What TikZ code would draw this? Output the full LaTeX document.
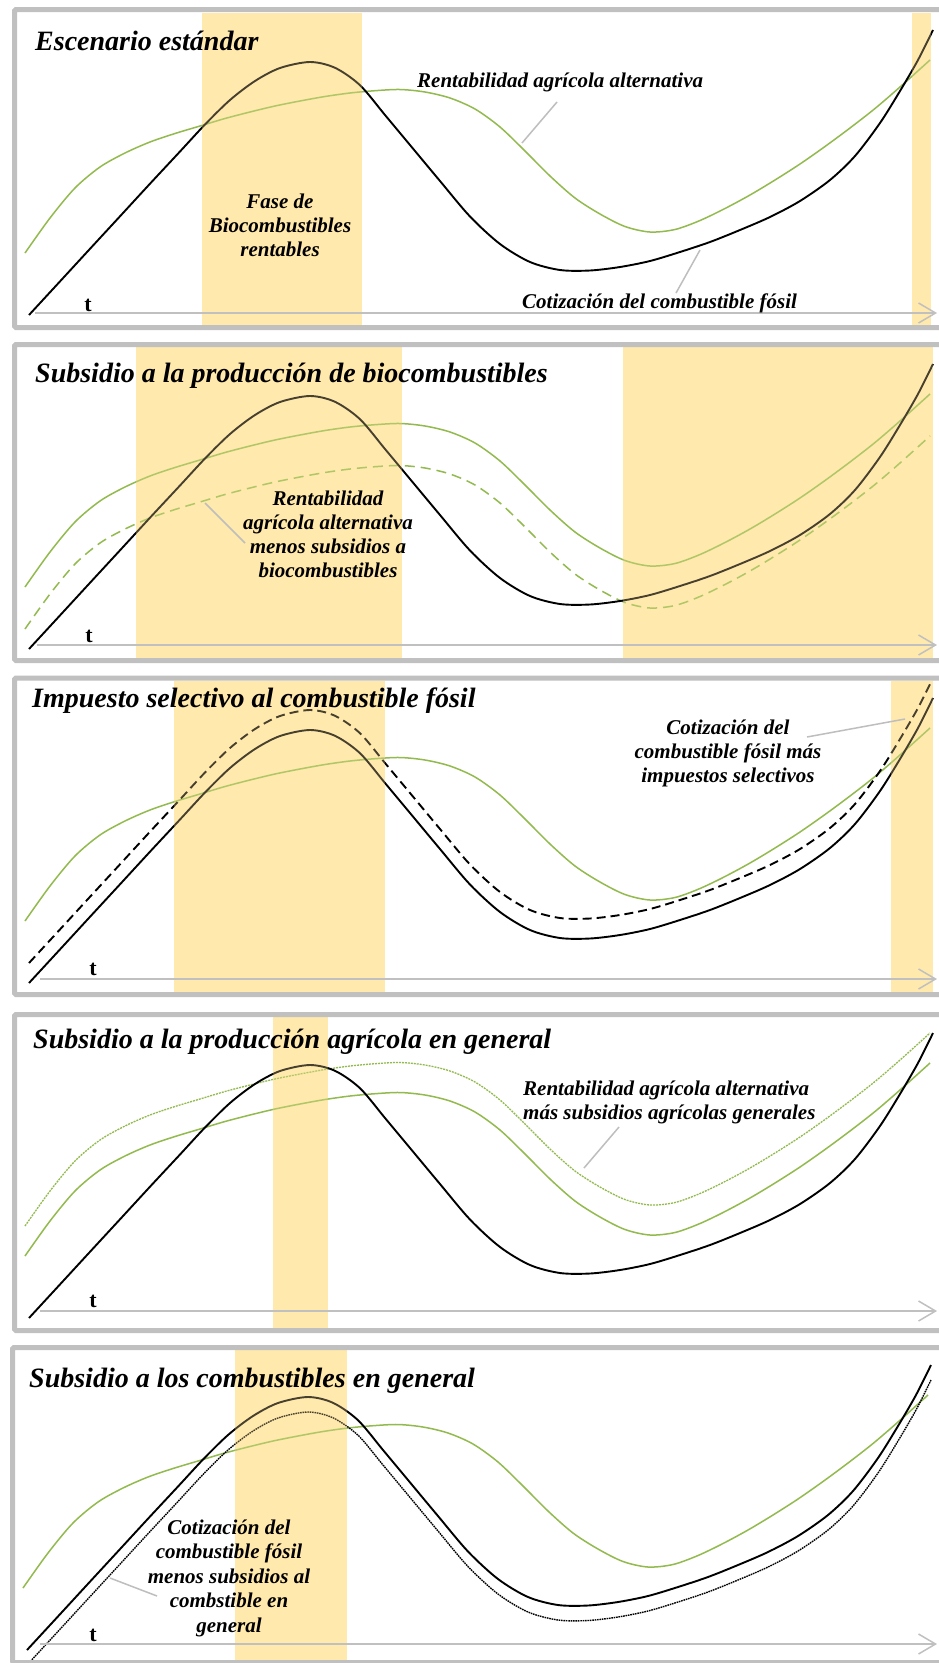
\documentclass[tikz,border=0pt]{standalone}
\usepackage{fontspec}
\setmainfont{Liberation Serif}
\usetikzlibrary{arrows.meta}
\definecolor{framegray}{RGB}{192,192,192}
\definecolor{leadgray}{RGB}{190,190,190}
\definecolor{bandyellow}{RGB}{255,233,172}
\definecolor{curvegreen}{RGB}{146,186,78}
\newcommand{\mylines}[2][c]{\begin{tabular}[t]{@{}#1@{}}#2\end{tabular}}
\newcommand{\blackcurve}[1]{\draw[#1] plot[smooth,tension=0.5] coordinates {(29,315) (60,281.4) (90,248.8) (120,216.3) (150,183.7) (180,151.5) (205,124.5) (230,100) (255,81) (280,68) (310,62) (335,67.8) (360,85.2) (385,115) (410,145) (440,181) (470,216.5) (500,244) (530,262) (560,270) (590,270.5) (620,267) (650,261) (680,252) (710,242) (740,230) (770,217) (800,201) (830,180) (855,156) (880,123) (900,91) (918,60) (933,30)};}
\newcommand{\greencurve}[1]{\draw[#1] plot[smooth,tension=0.5] coordinates {(25,253) (50,218) (75,188) (100,167) (125,153) (150,142) (175,133.5) (200,126) (225,118.5) (250,112) (275,106) (300,101) (325,96.5) (350,93) (375,90.7) (400,89.5) (425,92) (450,98) (475,109) (500,127) (525,151) (550,176) (575,198) (600,214) (625,226.5) (650,232) (675,229.5) (700,220.5) (725,208.5) (750,195) (775,180) (800,164) (825,146.5) (850,128) (875,108.5) (900,87) (930,60)};}
\tikzset{
  panelframe/.style={draw=framegray, line width=5pt, rounded corners=1.5pt},
  band/.style={fill=bandyellow},
  bandtint/.style={fill=bandyellow, fill opacity=0.28},
  blk/.style={black, line width=1.9pt},
  grn/.style={curvegreen, line width=1.5pt},
  axisline/.style={draw=framegray, line width=1.5pt, -{Straight Barb[length=17pt,width=20pt]}},
  leader/.style={draw=leadgray, line width=1.5pt},
  ttl/.style={font=\fontsize{28}{30}\selectfont\bfseries\itshape, inner sep=0pt, anchor=base west},
  lbl/.style={font=\fontsize{21}{24}\selectfont\bfseries\itshape, inner sep=0pt},
  tlabel/.style={font=\fontsize{22}{24}\selectfont\bfseries, inner sep=0pt, anchor=base},
}
\begin{document}
\begin{tikzpicture}[x=1pt,y=-1pt]
\useasboundingbox (0,0) rectangle (939,1663);
\clip (0,0) rectangle (939,1663);
\fill[white] (0,0) rectangle (939,1663);
% bands
\fill[band] (202,13) rectangle (362,325);
\fill[band] (912,13) rectangle (931,325);
\fill[band] (136,347) rectangle (402,658);
\fill[band] (623,347) rectangle (933,658);
\fill[band] (174,681) rectangle (385,992);
\fill[band] (891,681) rectangle (933,992);
\fill[band] (273,1016) rectangle (328,1328);
\fill[band] (235,1349) rectangle (347,1663);
% curves panel 1
\greencurve{grn}
\blackcurve{blk}
% panel 2
\greencurve{grn, yshift=-334pt}
\greencurve{grn, yshift=-376pt, dash pattern=on 10pt off 6pt}
\blackcurve{blk, yshift=-334pt}
% panel 3
\greencurve{grn, yshift=-668pt}
\blackcurve{blk, yshift=-668pt}
\blackcurve{blk, yshift=-648pt, dash pattern=on 9pt off 5pt}
% panel 4
\greencurve{grn, yshift=-1003pt}
\greencurve{curvegreen, line width=1.3pt, yshift=-973pt, dash pattern=on 2pt off 1pt}
\blackcurve{blk, yshift=-1003pt}
% panel 5
\greencurve{grn, xshift=-2pt, yshift=-1335pt}
\blackcurve{blk, xshift=-2pt, yshift=-1335pt}
\blackcurve{black, line width=1.4pt, xshift=-2pt, yshift=-1350pt, dash pattern=on 1.6pt off 0.8pt}
% band tint over curves
\fill[bandtint] (202,13) rectangle (362,325);
\fill[bandtint] (912,13) rectangle (931,325);
\fill[bandtint] (136,347) rectangle (402,658);
\fill[bandtint] (623,347) rectangle (933,658);
\fill[bandtint] (174,681) rectangle (385,992);
\fill[bandtint] (891,681) rectangle (933,992);
\fill[bandtint] (273,1016) rectangle (328,1328);
\fill[bandtint] (235,1349) rectangle (347,1663);
% axes
\coordinate (a1s) at (35,313);   \coordinate (a1e) at (937,313);
\coordinate (a2s) at (37,645);   \coordinate (a2e) at (937,645);
\coordinate (a3s) at (40,979);   \coordinate (a3e) at (937,979);
\coordinate (a4s) at (40,1311);  \coordinate (a4e) at (937,1311);
\coordinate (a5s) at (40,1644);  \coordinate (a5e) at (937,1644);
\draw[axisline] (a1s) -- (a1e);
\draw[axisline] (a2s) -- (a2e);
\draw[axisline] (a3s) -- (a3e);
\draw[axisline] (a4s) -- (a4e);
\draw[axisline] (a5s) -- (a5e);
% leaders
\coordinate (l1a) at (557,102); \coordinate (l1b) at (522,143);
\coordinate (l2a) at (676,293); \coordinate (l2b) at (700,250);
\coordinate (l3a) at (245,543); \coordinate (l3b) at (205,503);
\coordinate (l4a) at (807,737); \coordinate (l4b) at (905,719);
\coordinate (l5a) at (619,1127); \coordinate (l5b) at (584,1168);
\coordinate (l6a) at (157,1596); \coordinate (l6b) at (110,1578);
\draw[leader] (l1a) -- (l1b);
\draw[leader] (l2a) -- (l2b);
\draw[leader] (l3a) -- (l3b);
\draw[leader] (l4a) -- (l4b);
\draw[leader] (l5a) -- (l5b);
\draw[leader] (l6a) -- (l6b);
% texts panel 1
\node[ttl] (title1) at (35,50) {Escenario estándar};
\node[lbl, anchor=base west] (rent1) at (417,87) {Rentabilidad agrícola alternativa};
\node[lbl, anchor=base] (fase) at (280,208) {\mylines{Fase de\\Biocombustibles\\rentables}};
\node[lbl, anchor=base west] (coti1) at (522,308) {Cotización del combustible fósil};
\node[tlabel] (t1) at (88,311) {t};
% panel 2
\node[ttl] (title2) at (35,382) {Subsidio a la producción de biocombustibles};
\node[lbl, anchor=base] (rent2) at (328,505) {\mylines{Rentabilidad\\agrícola alternativa\\menos subsidios a\\biocombustibles}};
\node[tlabel] (t2) at (89,642) {t};
% panel 3
\node[ttl] (title3) at (32,707) {Impuesto selectivo al combustible fósil};
\node[lbl, anchor=base] (coti3) at (728,734) {\mylines{Cotización del\\combustible fósil más\\impuestos selectivos}};
\node[tlabel] (t3) at (93,975) {t};
% panel 4
\node[ttl] (title4) at (33,1048) {Subsidio a la producción agrícola en general};
\node[lbl, anchor=base west] (rent4) at (523,1095) {\mylines[l]{Rentabilidad agrícola alternativa\\más subsidios agrícolas generales}};
\node[tlabel] (t4) at (93,1307) {t};
% panel 5
\node[ttl] (title5) at (29,1387) {Subsidio a los combustibles en general};
\node[lbl, font=\fontsize{21}{24.5}\selectfont\bfseries\itshape, anchor=base] (coti5) at (229,1534) {\mylines{Cotización del\\combustible fósil\\menos subsidios al\\combstible en\\general}};
\node[tlabel] (t5) at (93,1641) {t};
% frames
\draw[panelframe] (14.5,9.5) rectangle (965,327.5);
\draw[panelframe] (14.5,344.5) rectangle (965,660.5);
\draw[panelframe] (14.5,678) rectangle (965,994.5);
\draw[panelframe] (14.5,1014.5) rectangle (965,1330.5);
\draw[panelframe] (12.5,1347.5) rectangle (965,1662.5);
\end{tikzpicture}
\end{document}
